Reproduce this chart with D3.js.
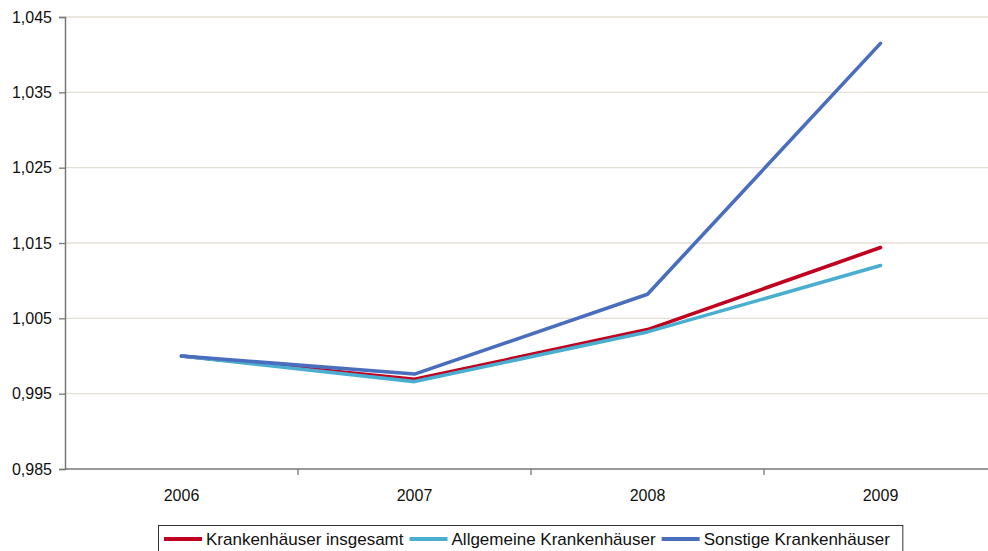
<!DOCTYPE html>
<html>
<head>
<meta charset="utf-8">
<script src="https://cdn.jsdelivr.net/npm/d3@7"></script>
<style>
  html, body { margin: 0; padding: 0; background: #fff; }
  svg { display: block; font-family: "Liberation Sans", Arial, sans-serif; }
</style>
</head>
<body>
<svg id="chart" width="988" height="551"></svg>
<script>
// Jahre und Indexwerte (2006 = 1)
const years = ["2006", "2007", "2008", "2009"];
const insgesamt = [1.0000, 0.9969, 1.0035, 1.0144];
const allgemeine = [1.0000, 0.9966, 1.0032, 1.0120];
const sonstige = [1.0000, 0.9976, 1.0082, 1.0415];
const seriesNames = ["Krankenhäuser insgesamt", "Allgemeine Krankenhäuser", "Sonstige Krankenhäuser"];
const seriesColors = ["#c0001f", "#4aaed0", "#4a6ebe"];
const yTicks = [0.985, 0.995, 1.005, 1.015, 1.025, 1.035, 1.045];

const series = [insgesamt, allgemeine, sonstige].map((values, i) => ({
  name: seriesNames[i], color: seriesColors[i],
  points: values.map((v, j) => ({ year: years[j], value: v }))
}));

const svg = d3.select("#chart");
const plot = { left: 65, right: 997, top: 17, bottom: 469 };

const x = d3.scaleBand().domain(years).range([plot.left, plot.right]).padding(0);
const y = d3.scaleLinear().domain([0.985, 1.045]).range([plot.bottom, plot.top]);

const de = d3.formatLocale({ decimal: ",", thousands: ".", grouping: [3], currency: ["", " €"] });
const fmt = de.format(".3f");

// Gitterlinien
svg.append("g")
  .selectAll("line")
  .data(yTicks.slice(1))
  .join("line")
  .attr("x1", plot.left).attr("x2", plot.right)
  .attr("y1", d => y(d)).attr("y2", d => y(d))
  .attr("stroke", "#e4dfd6").attr("stroke-width", 1.3);

// Y-Achse
const yAxis = svg.append("g")
  .attr("transform", `translate(${plot.left},0)`)
  .call(d3.axisLeft(y).tickValues(yTicks).tickFormat(fmt).tickSize(6).tickPadding(7));
yAxis.select(".domain").attr("stroke", "#777").attr("stroke-width", 1.5);
yAxis.selectAll(".tick line").attr("stroke", "#777").attr("stroke-width", 1.3);
yAxis.selectAll("text").attr("font-size", 16).attr("fill", "#111")
  .attr("font-family", "Liberation Sans, Arial, sans-serif");

// X-Achse mit Markierungen an den Kategoriegrenzen
const xg = svg.append("g").attr("transform", `translate(0,${plot.bottom})`);
xg.append("line").attr("x1", plot.left).attr("x2", plot.right).attr("y1", 0).attr("y2", 0)
  .attr("stroke", "#777").attr("stroke-width", 1.5);
xg.selectAll("line.tk")
  .data(years)
  .join("line").attr("class", "tk")
  .attr("x1", d => x(d) + x.bandwidth()).attr("x2", d => x(d) + x.bandwidth())
  .attr("y1", 0).attr("y2", 6)
  .attr("stroke", "#777").attr("stroke-width", 1.3);
xg.selectAll("text")
  .data(years)
  .join("text")
  .attr("x", d => x(d) + x.bandwidth() / 2)
  .attr("y", 32)
  .attr("text-anchor", "middle")
  .attr("font-size", 16).attr("fill", "#111")
  .text(d => d);

// Linien
const line = d3.line()
  .x(d => x(d.year) + x.bandwidth() / 2)
  .y(d => y(d.value));

svg.append("g")
  .selectAll("path")
  .data(series)
  .join("path")
  .attr("d", d => line(d.points))
  .attr("fill", "none")
  .attr("stroke", d => d.color)
  .attr("stroke-width", 3.6)
  .attr("stroke-linejoin", "round")
  .attr("stroke-linecap", "round");

// Legende
const lg = svg.append("g");
const box = lg.append("rect")
  .attr("fill", "#fff").attr("stroke", "#333").attr("stroke-width", 1);
let cx = 164;
series.forEach(s => {
  const g = lg.append("g");
  g.append("line")
    .attr("x1", cx).attr("x2", cx + 38)
    .attr("y1", 539).attr("y2", 539)
    .attr("stroke", s.color).attr("stroke-width", 4);
  const t = g.append("text")
    .attr("x", cx + 42).attr("y", 545)
    .attr("font-size", 17).attr("fill", "#111")
    .text(s.name);
  const w = t.node().getComputedTextLength();
  cx = cx + 42 + w + 6;
});
box.attr("x", 158.5).attr("y", 525.5).attr("width", cx - 158.5 + 7).attr("height", 40);
</script>
</body>
</html>
